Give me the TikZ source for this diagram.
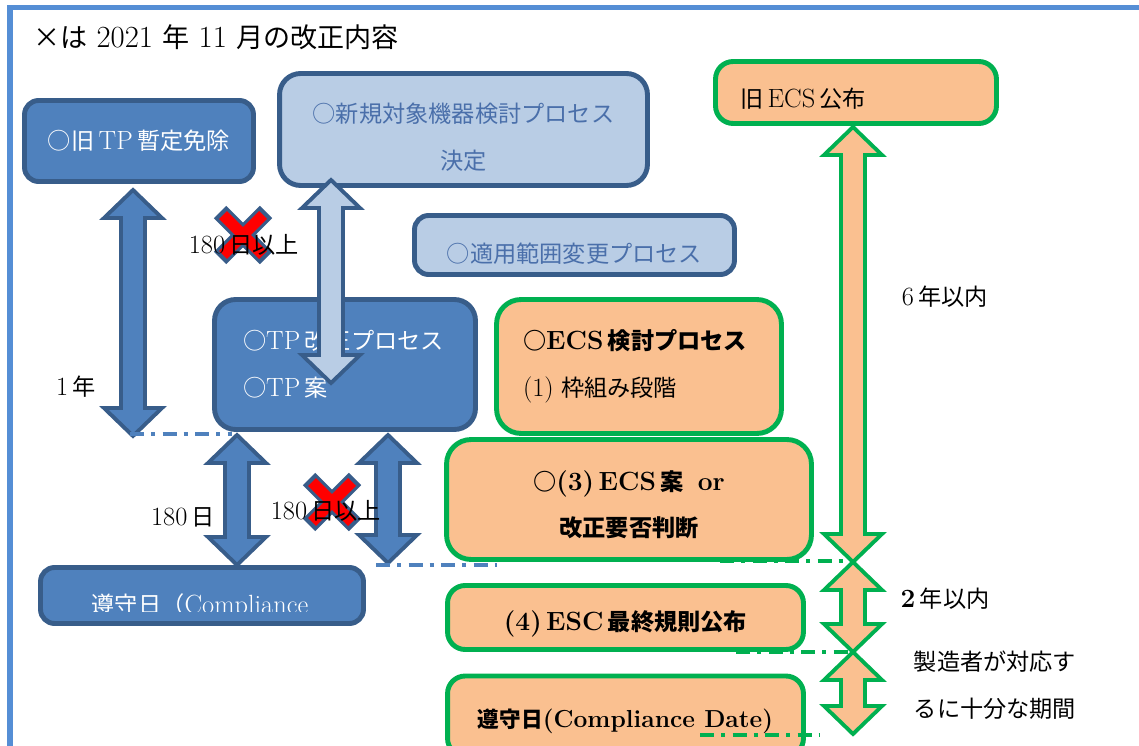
\documentclass[tikz,border=0pt]{standalone}
\usepackage{fontspec}
\newfontfamily\jp{Noto Sans CJK JP}[Scale=0.88]
\usetikzlibrary{calc}
\definecolor{tpblue}{HTML}{4F81BD}
\definecolor{tpedge}{HTML}{385D8A}
\definecolor{tplight}{HTML}{B9CDE5}
\definecolor{tptext}{HTML}{4A6FAA}
\definecolor{ecsfill}{HTML}{FAC090}
\definecolor{ecsedge}{HTML}{00B050}
\definecolor{framecol}{HTML}{558ED5}
\newcommand\J[1]{{\jp #1}}
% strut that pushes a line of text down inside its box
\newcommand\drop[1]{\rule{0pt}{#1}}
% block arrow with a head at each end, from (#2) down to (#3)
\newcommand\twoway[3][]{%
  \draw[#1] (#2) -- ++(29,28) -- ++(-17,0) -- ($(#3)+(12,-28)$) -- ++(17,0) -- (#3)
    -- ++(-29,-28) -- ++(17,0) -- ($(#2)+(-12,28)$) -- ++(-17,0) -- cycle;}
% red cross on (#1)
\newcommand\redcross[1]{%
  \draw[tpedge, line width=10pt] ($(#1)+(-23,-23)$) -- ($(#1)+(23,23)$)
    ($(#1)+(-23,23)$) -- ($(#1)+(23,-23)$);
  \draw[red, line width=6.4pt] ($(#1)+(-20,-20)$) -- ($(#1)+(20,20)$)
    ($(#1)+(-20,20)$) -- ($(#1)+(20,-20)$);}
\tikzset{
  every node/.style={font=\fontsize{15}{26.7}\selectfont},
  darkbox/.style={draw=tpedge, fill=tpblue, line width=2.8pt, rounded corners=8pt, text=white},
  lightbox/.style={draw=tpedge, fill=tplight, line width=2.8pt, rounded corners=12pt, text=tptext},
  ecsbox/.style={draw=ecsedge, fill=ecsfill, line width=2.8pt, rounded corners=10pt},
  darkarrow/.style={draw=tpedge, fill=tpblue, line width=2.2pt},
  lightarrow/.style={draw=tpedge, fill=tplight, line width=2.2pt},
  ecsarrow/.style={draw=ecsedge, fill=ecsfill, line width=2.2pt},
  bluedash/.style={draw=tpblue, line width=2.1pt, dash pattern=on 8pt off 4pt on 2.5pt off 4pt},
  greendash/.style={draw=ecsedge, line width=2.1pt, dash pattern=on 8pt off 4pt on 2.5pt off 4pt}
}
\begin{document}
\begin{tikzpicture}[x=0.02cm, y=-0.02cm]
  \useasboundingbox (0,0) rectangle (1139,746);
  \clip (0,0) rectangle (1139,746);
  % frame and heading
  \draw[framecol, line width=3.2pt] (10,760) -- (10,7.5) -- (1150,7.5);
  \node[anchor=west, font=\fontsize{17.5}{20}\selectfont] (title) at (27,37)
    {\J{×は} 2021 \J{年} 11 \J{月の改正内容}};
  % TP side
  \node[darkbox, minimum width=4.58cm, minimum height=1.62cm] (oldtp) at (139,141)
    {\J{○旧}\,TP\,\J{暫定免除}};
  \node[lightbox, minimum width=7.36cm, minimum height=2.24cm, align=center] (newdev) at (463.5,129.5)
    {\drop{19.6pt}\J{○新規対象機器検討プロセス}\\\J{決定}};
  \node[lightbox, minimum width=6.40cm, minimum height=1.18cm, rounded corners=8pt] (scope) at (574.5,245)
    {\drop{20.6pt}\J{○適用範囲変更プロセス}};
  \node[darkbox, minimum width=5.22cm, minimum height=2.60cm, rounded corners=12pt,
    text width=4.08cm, align=left] (tprev) at (345,364.5)
    {\J{○}TP\,\J{改正プロセス}\\\J{○}TP\,\J{案}};
  \node[darkbox, minimum width=6.46cm, minimum height=1.12cm] (compl) at (202,595.5) {};
  \begin{scope}
    \clip (40,565) rectangle (366,611);
    \node[text=white, anchor=base] (compltxt) at (200,613) {\J{遵守日（}Compliance};
  \end{scope}
  % ECS side
  \node[ecsbox, minimum width=5.62cm, minimum height=1.24cm, text width=4.64cm, align=left] (oldecs) at (856,92.5)
    {\drop{18.4pt}\J{旧}\,ECS\,\J{公布}};
  \node[ecsbox, minimum width=5.70cm, minimum height=2.68cm, rounded corners=14pt,
    text width=4.64cm, align=left] (ecsproc) at (639,366.5)
    {\textbf{\J{○}ECS\,\J{検討プロセス}}\\(1)\;\J{枠組み段階}};
  \node[ecsbox, minimum width=7.30cm, minimum height=2.40cm, rounded corners=14pt,
    align=center, font=\fontsize{15}{26.7}\selectfont\bfseries] (ecsdraft) at (629,499.5)
    {\drop{17.3pt}\J{○}(3)\,ECS\,\J{案}\ \,or\\\J{改正要否判断}};
  \node[ecsbox, minimum width=7.12cm, minimum height=1.28cm, font=\fontsize{15}{26.7}\selectfont\bfseries]
    (final) at (625.5,617.5) {\drop{18.4pt}(4)\,ESC\,\J{最終規則公布}};
  \node[ecsbox, minimum width=7.12cm, minimum height=1.60cm, font=\fontsize{14}{26.7}\selectfont\bfseries]
    (compdate) at (625.5,716) {\drop{16.5pt}\J{遵守日}(Compliance Date)};
  % arrow ends
  \coordinate (a1) at (133,190);  \coordinate (a2) at (133,436);
  \coordinate (b1) at (331,180);  \coordinate (b2) at (331,383);
  \coordinate (c1) at (237,435);  \coordinate (c2) at (237,565);
  \coordinate (d1) at (388,435);  \coordinate (d2) at (388,563);
  \coordinate (e1) at (853,127);  \coordinate (e2) at (853,562);
  \coordinate (f2) at (853,652);  \coordinate (g2) at (853,734);
  \twoway[darkarrow]{a1}{a2}
  \twoway[lightarrow]{b1}{b2}
  \twoway[darkarrow]{c1}{c2}
  \twoway[darkarrow]{d1}{d2}
  \twoway[ecsarrow]{e1}{e2}
  \twoway[ecsarrow]{e2}{f2}
  \twoway[ecsarrow]{f2}{g2}
  % guide lines
  \draw[bluedash] (130,434) -- (232,434);
  \draw[bluedash] (376,565) -- (497,565);
  \draw[greendash] (720,561) -- (845,561);
  \draw[greendash] (736,652) -- (850,652);
  \draw[greendash] (700,735) -- (820,735);
  % crossed out
  \coordinate (x1) at (243,235);
  \coordinate (x2) at (332,502);
  \redcross{x1}
  \redcross{x2}
  % labels
  \node (days1) at (244,245) {180\,\J{日以上}};
  \node (year1) at (76,387) {1\,\J{年}};
  \node (days2) at (183,517) {180\,\J{日}};
  \node (days3) at (326,511) {180\,\J{日以上}};
  \node (year6) at (945,297) {6\,\J{年以内}};
  \node (year2) at (945,599) {\textbf{2}\,\J{年以内}};
  \node[align=left] (maker) at (995,685) {\J{製造者が対応す}\\\J{るに十分な期間}};
\end{tikzpicture}
\end{document}
